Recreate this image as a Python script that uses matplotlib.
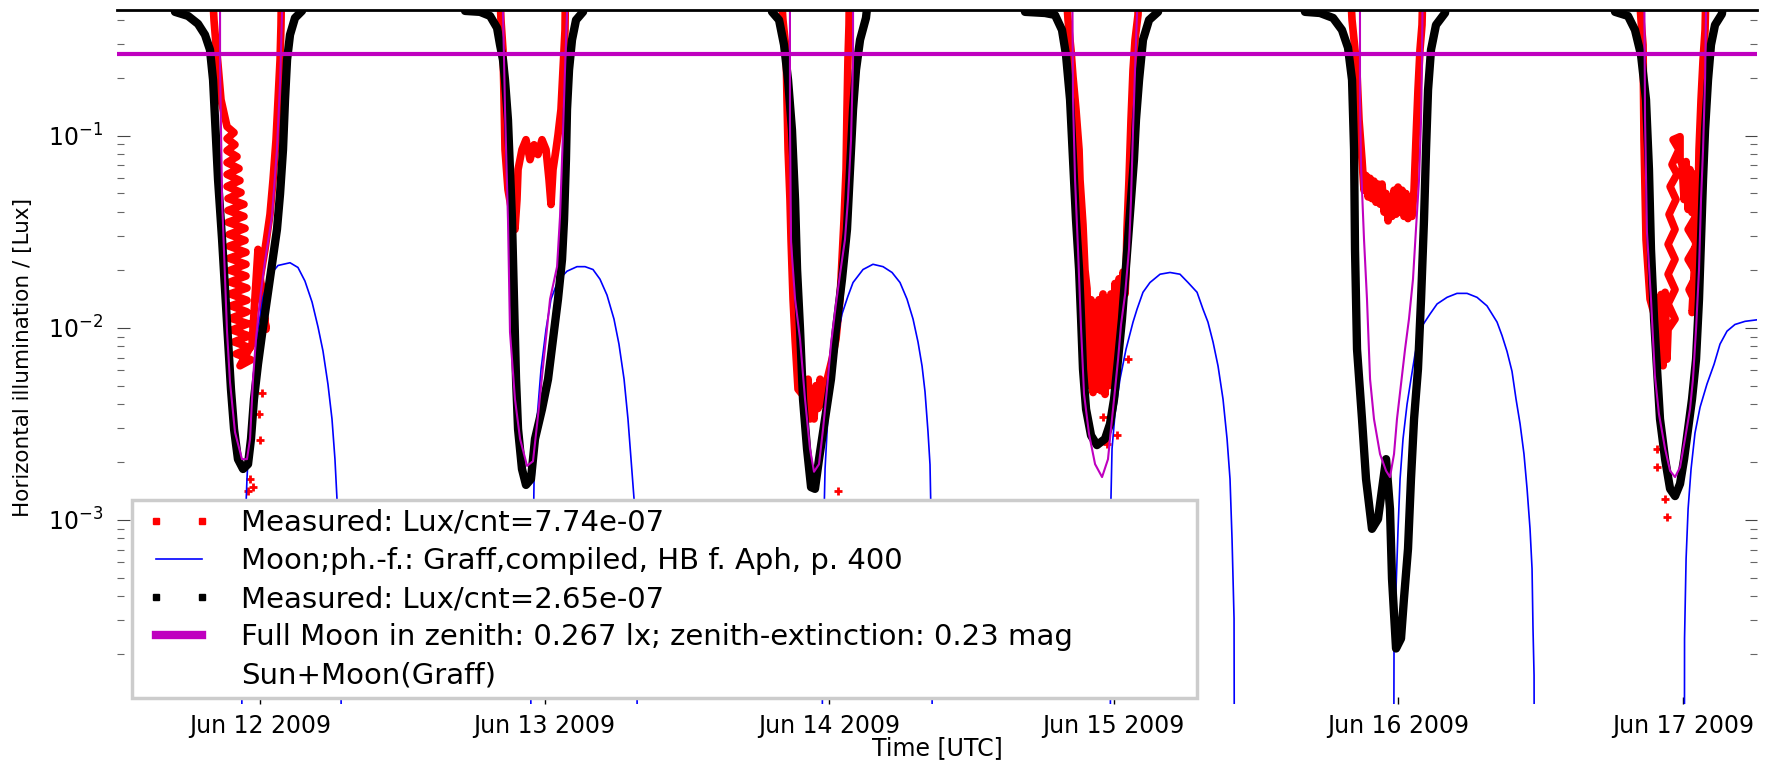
import numpy as np
import matplotlib
matplotlib.use("Agg")
import matplotlib.pyplot as plt
import matplotlib.dates as mdates
from matplotlib.lines import Line2D
from matplotlib.legend_handler import HandlerLine2D
from matplotlib.ticker import NullFormatter
from datetime import datetime

nan = np.nan
# all times are hours after 2009-06-12 00:00 UTC, nights separated by nan
start = datetime(2009, 6, 12)

# Measured: Lux/cnt=7.74e-07 (red)
red_hours = [
    -4.22, -3.88, -3.71, -3.54, -3.29,
    -2.78, -2.19, -2.78, -2.11, -2.78, -1.94, -2.78, -1.77, -2.78, -1.69, -2.78, -1.60, -2.70, -1.35, -2.70, -1.35,
    -2.70, -1.26, -2.61, -1.26, -2.61, -1.18, -2.61, -1.18, -2.53, -1.18, -2.53, -1.10, -2.53, -1.10, -2.45, -1.10,
    -2.45, -1.01, -2.36, -0.93, -2.19, -0.84, -2.02, -0.76, -1.69, -0.67,
    -0.17, 0.17, 0.51, 0.00, 0.42, 0.84, 1.10, 1.35, 1.52, 1.69, 1.77, 1.86, nan,
    20.07, 20.32, 20.49, 20.58, 20.66, 20.91, 21.50, 21.67, 21.76, 22.09, 22.43, 22.77, 23.11, 23.44,
    23.78, 24.12, 24.37, 24.54, 24.71, 24.96, 25.13, 25.38, 25.55, 25.72, 25.80, nan,
    43.68, 44.10, 44.36, 44.44, 44.53, 44.69, 44.78, 44.95, 45.12, 45.37, 46.05, 46.22, 46.38, 46.55,
    46.72, 46.89, 47.06, 47.23, 47.40, 47.73, 48.24, 48.57, 48.91, 49.08, 49.25, 49.42, 49.50, 49.58, 49.67, 49.75, nan,
    67.72, 68.14, 68.39, 68.56, 68.81, 69.07, 69.15, 69.40, 69.57, 69.74, 69.91, 70.08, 70.25, 70.41,
    70.58, 70.75, 70.92, 71.09, 71.26, 71.43, 71.60, 71.76, 71.93, 72.10, 72.27, 72.44, 72.61, 72.78,
    72.95, 73.03, 73.11, 73.28, 73.45, 73.62, 73.79, 74.04, 74.21, nan,
    91.75, 92.09, 92.34, 92.51, 92.68, 92.93, 93.10, 93.27, 93.44, 93.61, 93.77, 93.94, 94.11, 94.28,
    94.45, 94.62, 94.79, 94.96, 95.13, 95.29, 95.46, 95.63, 95.80, 95.97, 96.14, 96.31, 96.47, 96.64,
    96.81, 96.98, 97.15, 97.32, 97.48, 97.65, 97.82, 97.99, 98.16, nan,
    116.04, 116.46, 116.63, 116.71, 116.88, 117.22,
    117.81, 117.98, 118.15, 118.32, 118.49, 118.65,
    118.74, 119.33, 118.74, 119.33, 118.74, 119.33, 118.74, 119.33, 118.82, 119.41, 118.91, 119.50, 119.07,
    119.66, 119.16, 119.75, 119.75,
    119.92, 120.09, 120.26, 120.43, 120.59, 120.76, 120.93, 121.10, 121.27, 121.44,
    121.18, 120.43, 121.18, 120.43, 121.18, 120.51, 121.10, 120.76,
    121.27, 121.35, 121.52, 121.69, 121.86, 122.02,
]
red_lux = [
    1.0, 0.400, 0.297, 0.234, 0.154,
    0.1114, 0.1037, 0.0965, 0.0898, 0.0836, 0.0778, 0.0724, 0.0674, 0.0628, 0.0584, 0.0544, 0.0506, 0.0471, 0.0439, 0.0408, 0.0380,
    0.0354, 0.0329, 0.0306, 0.0285, 0.0266, 0.0247, 0.0230, 0.0214, 0.0199, 0.0186, 0.0173, 0.0161, 0.0150, 0.0139, 0.0130, 0.0121,
    0.0112, 0.0105, 0.00974, 0.00907, 0.00844, 0.00786, 0.00731, 0.00681, 0.00634, 0.00824,
    0.0256, 0.0141, 0.00982, 0.0179, 0.0256, 0.0389, 0.0591, 0.0953, 0.154, 0.248, 0.377, 1.0, nan,
    1.0, 0.400, 0.280, 0.154, 0.0846, 0.0524, 0.0325, 0.0465, 0.0666, 0.0846, 0.0953, 0.0750, 0.0897, 0.0797,
    0.0953, 0.0846, 0.0591, 0.0438, 0.0666, 0.0846, 0.101, 0.137, 0.220, 0.355, 1.0, nan,
    1.0, 0.400, 0.280, 0.154, 0.0846, 0.0465, 0.0288, 0.0141, 0.00872, 0.00479, 0.00425, 0.00540, 0.00335, 0.00480,
    0.00335, 0.00500, 0.00380, 0.00540, 0.00400, 0.00509, 0.00686, 0.00872, 0.0141, 0.0227, 0.0366, 0.0666, 0.137, 0.248, 0.377, 1.0, nan,
    1.0, 0.400, 0.280, 0.2025, 0.137, 0.0846, 0.0591, 0.0345, 0.0200, 0.0160, 0.00500, 0.0140, 0.00460, 0.0130,
    0.00480, 0.0140, 0.00470, 0.0150, 0.00450, 0.0130, 0.00500, 0.0150, 0.00560, 0.0170, 0.00700, 0.0180, 0.0110, 0.0195,
    0.0150, 0.0195, 0.0325, 0.0591, 0.121, 0.220, 0.315, 0.425, 1.0, nan,
    1.0, 0.400, 0.280, 0.212, 0.121, 0.0750, 0.0520, 0.0620, 0.0480, 0.0600, 0.0470, 0.0580, 0.0450, 0.0560,
    0.0440, 0.0560, 0.0400, 0.0500, 0.0360, 0.0480, 0.0380, 0.0520, 0.0390, 0.0540, 0.0400, 0.0520, 0.0380, 0.0500,
    0.0370, 0.0480, 0.0380, 0.0524, 0.0953, 0.173, 0.280, 0.377, 1.0, nan,
    1.0, 0.400, 0.297, 0.0953, 0.0288, 0.0141,
    0.0104, 0.00646, 0.0149, 0.00634, 0.0153, 0.00686,
    0.00982, 0.0111, 0.0133, 0.0158, 0.0190, 0.0227, 0.0272, 0.0325, 0.0389, 0.0465, 0.0543, 0.0631, 0.0707,
    0.0846, 0.0953, 0.0988, 0.0750,
    0.0707, 0.0465, 0.0733, 0.0413, 0.0666, 0.0398, 0.0631, 0.0413, 0.0591, 0.0465,
    0.0389, 0.0325, 0.0272, 0.0227, 0.0190, 0.0158, 0.0133, 0.0120,
    0.0465, 0.0846, 0.154, 0.248, 0.355, 1.0,
]
# isolated red points below the nightly curves
red_stray_hours = [0.17, -0.08, 0.00, -0.84, -1.01, -0.59, 48.74, 71.09, 71.43, 72.27, 73.20, 117.81, 117.81, 118.49, 118.65]
red_stray_lux = [0.00458, 0.00356, 0.00261, 0.00163, 0.00142, 0.00148, 0.00142, 0.00344, 0.00248, 0.00275, 0.00686,
                 0.00234, 0.00188, 0.00129, 0.00104]

# Measured: Lux/cnt=2.65e-07 (black)
black_hours = [
    -7.60, -7.17, -6.07, -5.23, -4.64, -4.22, -3.96, -3.79, -3.54, -3.20, -2.95, -2.70, -2.45, -2.19, -1.86,
    -1.43, -1.01, -0.76, -0.51, -0.17, 0.17, 0.59, 1.01, 1.43, 1.69, 1.94, 2.11, 2.28, 2.53, 2.95, 3.54, 4.20, nan,
    16.80, 17.29, 18.55, 19.40, 19.99, 20.24, 20.49, 20.66, 20.91, 21.08, 21.25, 21.42, 21.59, 21.76, 22.09,
    22.43, 22.85, 23.19, 23.78, 24.29, 24.71, 25.13, 25.47, 25.64, 25.80, 25.89, 26.06, 26.31, 26.65, 27.24, 27.90, nan,
    42.50, 43.18, 43.77, 44.19, 44.53, 44.86, 45.12, 45.29, 45.54, 45.79, 46.13, 46.47, 46.80, 47.14, 47.65,
    48.15, 48.57, 49.08, 49.50, 49.75, 50.01, 50.26, 50.60, 51.10, 51.80, nan,
    63.70, 64.51, 66.20, 67.04, 67.63, 67.97, 68.31, 68.56, 68.81, 69.07, 69.24, 69.40, 69.66, 70.08, 70.58,
    71.26, 71.68, 72.02, 72.36, 72.69, 72.95, 73.20, 73.45, 73.70, 73.87, 74.13, 74.46, 74.97, 75.73, 76.30, nan,
    87.30, 88.12, 89.39, 90.49, 91.24, 91.75, 92.09, 92.26, 92.34, 92.51, 92.93, 93.27, 93.77, 94.28, 94.62,
    94.96, 95.29, 95.46, 95.80, 96.22, 96.47, 96.81, 97.06, 97.32, 97.65, 97.91, 98.16, 98.33, 98.50, 98.75,
    99.17, 99.93, 100.80, nan,
    113.00, 114.27, 115.36, 115.95, 116.46, 116.88, 117.13, 117.30, 117.56, 117.81, 118.06, 118.49, 118.91,
    119.33, 119.75, 120.09, 120.43, 120.76, 121.10, 121.35, 121.52, 121.69, 121.86, 122.11, 122.36, 122.70,
    123.28, 124.00,
]
black_lux = [
    1.0, 0.441, 0.420, 0.382, 0.335, 0.280, 0.195, 0.121, 0.0591, 0.0288, 0.0158, 0.00872, 0.00479, 0.00297, 0.00207,
    0.00184, 0.00195, 0.00264, 0.00425, 0.00647, 0.00925, 0.0141, 0.0214, 0.0325, 0.0497, 0.0846, 0.154, 0.248, 0.335, 0.410, 0.446, 1.0, nan,
    1.0, 0.446, 0.441, 0.420, 0.364, 0.297, 0.248, 0.195, 0.121, 0.0666, 0.0366, 0.0141, 0.00540, 0.00297, 0.00184,
    0.00152, 0.00163, 0.00264, 0.00377, 0.00540, 0.00872, 0.0141, 0.0227, 0.0366, 0.0750, 0.137, 0.220, 0.315, 0.400, 0.441, 1.0, nan,
    1.0, 0.441, 0.400, 0.297, 0.195, 0.107, 0.0465, 0.0201, 0.00982, 0.00425, 0.00234, 0.00148, 0.00145, 0.00207, 0.00335,
    0.00540, 0.00982, 0.0179, 0.0325, 0.0666, 0.137, 0.220, 0.315, 0.410, 1.0, nan,
    1.0, 0.441, 0.435, 0.425, 0.355, 0.263, 0.154, 0.0750, 0.0366, 0.0201, 0.0111, 0.00609, 0.00377, 0.00275, 0.00245,
    0.00264, 0.00316, 0.00425, 0.00686, 0.0111, 0.0179, 0.0288, 0.0465, 0.0750, 0.121, 0.195, 0.315, 0.400, 0.441, 1.0, nan,
    1.0, 0.441, 0.435, 0.410, 0.355, 0.287, 0.195, 0.0846, 0.0256, 0.00773, 0.00335, 0.00163, 0.000898, 0.00101, 0.00145,
    0.00207, 0.00114, 0.000494, 0.000214, 0.000241, 0.000389, 0.000707, 0.00163, 0.00335, 0.00609, 0.0141, 0.0366, 0.0846, 0.173, 0.280,
    0.377, 0.435, 1.0, nan,
    1.0, 0.441, 0.420, 0.355, 0.263, 0.154, 0.0666, 0.0256, 0.0111, 0.00609, 0.00335, 0.00207, 0.00145,
    0.00133, 0.00154, 0.00207, 0.00297, 0.00425, 0.00686, 0.0141, 0.0288, 0.0591, 0.107, 0.195, 0.297, 0.377,
    0.430, 1.0,
]

# Moon; phase function Graff (blue), 1e-6 = moon below horizon
moon_hours = [
    -1.60, -1.52, -1.35, -1.10, -0.84, -0.51, -0.17, 0.25, 0.84, 1.52, 2.53, 3.20, 3.79, 4.39, 4.89, 5.31,
    5.73, 6.07, 6.32, 6.49, 6.66, 6.83, 6.92, nan,
    22.77, 22.85, 23.02, 23.11, 23.36, 23.70, 24.12, 24.54, 25.13, 25.89, 26.73, 27.41, 28.08, 28.67, 29.26,
    29.85, 30.27, 30.70, 31.03, 31.29, 31.54, 31.71, 31.79, 31.88, nan,
    47.39, 47.43, 47.52, 47.65, 47.90, 48.24, 48.57, 49.08, 49.58, 50.01, 50.85, 51.69, 52.54, 53.30, 53.97,
    54.56, 55.07, 55.49, 55.83, 56.08, 56.33, 56.50, 56.59, 56.67, 56.71, nan,
    71.68, 71.72, 71.76, 71.85, 72.10, 72.52, 73.03, 73.62, 73.96, 74.46, 75.05, 75.90, 76.74, 77.58, 78.26,
    79.02, 79.52, 79.94, 80.37, 80.79, 81.21, 81.55, 81.80, 81.97, 82.14, 82.22, nan,
    95.55, 95.63, 95.80, 95.97, 96.14, 96.39, 96.73, 97.06, 97.40, 97.82, 98.67, 99.26, 100.10, 100.94, 101.79,
    102.63, 103.47, 104.32, 104.74, 105.16, 105.58, 105.92, 106.26, 106.59, 106.85, 107.10, 107.27, 107.35,
    107.44, 107.52, nan,
    120.09, 120.13, 120.26, 120.43, 120.68, 121.01, 121.44, 122.02, 122.62, 123.12, 123.71, 124.38, 125.23, 126.24,
]
moon_lux = [
    1e-6, 0.000241, 0.000627, 0.00163, 0.00335, 0.00609, 0.00982, 0.0144, 0.0188, 0.0211, 0.0218, 0.0206, 0.0175, 0.0136, 0.0101, 0.00757,
    0.00508, 0.00335, 0.00207, 0.00129, 0.000494, 0.000190, 1e-6, nan,
    1e-6, 0.000241, 0.000627, 0.00163, 0.00335, 0.00609, 0.00982, 0.0141, 0.0176, 0.0197, 0.0208, 0.0208, 0.0201, 0.0179, 0.0148,
    0.0111, 0.00822, 0.00540, 0.00335, 0.00207, 0.00129, 0.000494, 0.000190, 1e-6, nan,
    1e-6, 0.000306, 0.000796, 0.00184, 0.00356, 0.00574, 0.00821, 0.0118, 0.0146, 0.0172, 0.0201, 0.0214, 0.0208, 0.0194, 0.0172,
    0.0141, 0.0111, 0.00842, 0.00632, 0.00464, 0.00288, 0.00194, 0.00101, 0.000389, 1e-6, nan,
    1e-6, 0.000389, 0.00129, 0.00234, 0.00356, 0.00540, 0.00773, 0.0107, 0.0125, 0.0153, 0.0172, 0.0190, 0.0194, 0.0190, 0.0172,
    0.0153, 0.0125, 0.0107, 0.00842, 0.00632, 0.00425, 0.00264, 0.00163, 0.000796, 0.000306, 1e-6, nan,
    1e-6, 0.000214, 0.000438, 0.000898, 0.00163, 0.00264, 0.00400, 0.00540, 0.00728, 0.00982, 0.0118, 0.0133, 0.0144, 0.0151, 0.0151,
    0.0144, 0.0130, 0.0107, 0.00910, 0.00753, 0.00593, 0.00425, 0.00316, 0.00220, 0.00145, 0.000898, 0.000556, 0.000272,
    0.000155, 1e-6, nan,
    1e-6, 0.000241, 0.000627, 0.00114, 0.00184, 0.00283, 0.00386, 0.00509, 0.00646, 0.00822, 0.00960, 0.0104, 0.0108, 0.0110,
]

# Sun+Moon(Graff) model (magenta)
model_hours = [
    -3.37, -3.37, -3.20, -2.78, -2.53, -2.11, -1.52, -1.10, -0.84, -0.59, -0.34, 0.00, 0.42, 1.01, 1.43, 1.69, 1.86, 1.86, nan,
    20.49, 20.49, 20.58, 20.66, 20.91, 21.08, 21.50, 21.93, 22.52, 23.02, 23.44, 23.87, 24.46, 25.05, 25.30, 25.55, 25.72, 25.89, 25.89, nan,
    44.69, 44.69, 44.78, 45.12, 45.54, 45.96, 46.38, 46.72, 47.14, 47.48, 47.81, 48.15, 48.57, 48.91, 49.33, 49.58, 49.84, 50.01, 50.01, nan,
    68.48, 68.56, 68.73, 68.98, 69.24, 69.49, 69.91, 70.42, 71.01, 71.51, 71.76, 72.02, 72.36, 72.61, 72.95, 73.28, 73.45, 73.62, 73.79, 73.96, 73.96, nan,
    92.76, 92.76, 92.85, 93.10, 93.35, 93.61, 93.94, 94.45, 94.96, 95.29, 95.63, 95.88, 96.22, 96.56, 96.89, 97.23, 97.48, 97.74, 97.91, 97.99, 98.08, nan,
    116.71, 116.80, 116.96, 117.30, 117.63, 117.97, 118.49, 118.91, 119.33, 119.75, 120.17, 120.59, 120.84, 121.10, 121.35, 121.52, 121.69, 121.86, 122.02,
]
model_lux = [
    1.0, 0.228, 0.0465, 0.00950, 0.00521, 0.00286, 0.00207, 0.00207, 0.00264, 0.0054, 0.00872, 0.0141, 0.0222, 0.0380, 0.0846, 0.188, 0.435, 1.0, nan,
    1.0, 0.435, 0.248, 0.137, 0.0366, 0.00950, 0.00425, 0.00264, 0.00191, 0.00202, 0.00347, 0.00631, 0.0141, 0.0208, 0.0380, 0.104, 0.220, 0.435, 1.0, nan,
    1.0, 0.121, 0.0279, 0.0141, 0.00872, 0.00425, 0.00234, 0.00178, 0.00195, 0.00297, 0.00479, 0.00821, 0.0133, 0.0190, 0.0288, 0.0465, 0.0953, 0.248, 1.0, nan,
    1.0, 0.154, 0.0591, 0.0256, 0.00982, 0.00452, 0.00280, 0.00195, 0.00167, 0.00207, 0.00297, 0.00425, 0.00686, 0.0104, 0.0149, 0.0256, 0.0465, 0.107, 0.220, 0.435, 1.0, nan,
    1.0, 0.154, 0.0693, 0.0288, 0.0141, 0.00540, 0.00335, 0.00220, 0.00180, 0.00167, 0.00220, 0.00335, 0.00509, 0.00773, 0.0111, 0.0179, 0.0325, 0.0591, 0.121, 0.248, 1.0, nan,
    1.0, 0.121, 0.0315, 0.0141, 0.00562, 0.00356, 0.00234, 0.00180, 0.00167, 0.00188, 0.00264, 0.00377, 0.00540, 0.00982, 0.0201, 0.0465, 0.0846, 0.195, 1.0,
]

full_moon_lux = 0.267
x_range_hours = [-12.06, 126.24]
y_range = [1.1e-4, 0.451]

labels = [
    'Measured: Lux/cnt=7.74e-07',
    'Moon;ph.-f.: Graff,compiled, HB f. Aph, p. 400',
    'Measured: Lux/cnt=2.65e-07',
    'Full Moon in zenith: 0.267 lx; zenith-extinction: 0.23 mag',
    'Sun+Moon(Graff)',
]


def to_num(hours):
    return mdates.date2num(start) + np.asarray(hours, dtype=float) / 24.0


fig = plt.figure(figsize=(17.75, 7.6), dpi=100)
ax = fig.add_axes([117 / 1775, 56 / 760, 1640 / 1775, 694 / 760])

l_red, = ax.plot(to_num(red_hours), red_lux, color='red', lw=5.5, zorder=2)
ax.plot(to_num(red_stray_hours), red_stray_lux, ls='none', marker='+', ms=6, mew=2, color='red', zorder=2)
l_moon, = ax.plot(to_num(moon_hours), moon_lux, color='blue', lw=1.2, zorder=2.1)
l_black, = ax.plot(to_num(black_hours), black_lux, color='black', lw=6, zorder=2.2)
l_full = ax.axhline(full_moon_lux, color='m', lw=3, zorder=2.3)
l_model, = ax.plot(to_num(model_hours), model_lux, color='m', lw=1.5, zorder=2.4)

ax.set_yscale('log')
ax.set_ylim(*y_range)
ax.set_xlim(*to_num(x_range_hours))

ax.xaxis.set_major_locator(mdates.DayLocator())
ax.xaxis.set_major_formatter(mdates.DateFormatter('%b %d %Y'))
ax.yaxis.set_minor_formatter(NullFormatter())

ax.tick_params(axis='y', which='major', direction='in', left=True, right=True, length=9, width=0.8,
               color='#444444', labelsize=17, pad=10)
ax.tick_params(axis='y', which='minor', direction='in', left=True, right=True, length=5, width=0.8,
               color='#666666')
ax.tick_params(axis='x', which='major', direction='in', length=5, width=1, labelsize=17, pad=7)

for side in ['left', 'right', 'bottom']:
    ax.spines[side].set_visible(False)
ax.spines['top'].set_linewidth(2)

ax.set_xlabel('Time [UTC]', fontsize=17)
ax.xaxis.set_label_coords(0.5, -0.046)
ax.set_ylabel('Horizontal illumination / [Lux]', fontsize=15.5)
ax.yaxis.set_label_coords(-0.051, 0.5)

leg = ax.legend([l_red, l_moon, l_black, l_full, l_model], labels,
                loc='upper left', bbox_to_anchor=(132 / 1775, 0.0, 1065 / 1775, 1 - 500 / 760),
                bbox_transform=fig.transFigure, mode='expand', borderaxespad=0,
                fontsize=21, borderpad=0.3, labelspacing=0.35, handlelength=2.62,
                handletextpad=0.81, numpoints=2, fancybox=False, framealpha=1,
                edgecolor='#cccccc', handler_map={Line2D: HandlerLine2D(marker_pad=0.52)})
leg.get_frame().set_linewidth(2.5)
hs = leg.legend_handles
for i in (0, 2):
    hs[i].set_linestyle('None')
    hs[i].set_marker('s')
    hs[i].set_markersize(4.5)
hs[3].set_linewidth(6)
hs[4].set_visible(False)

fig.savefig('out.png', dpi=100)
